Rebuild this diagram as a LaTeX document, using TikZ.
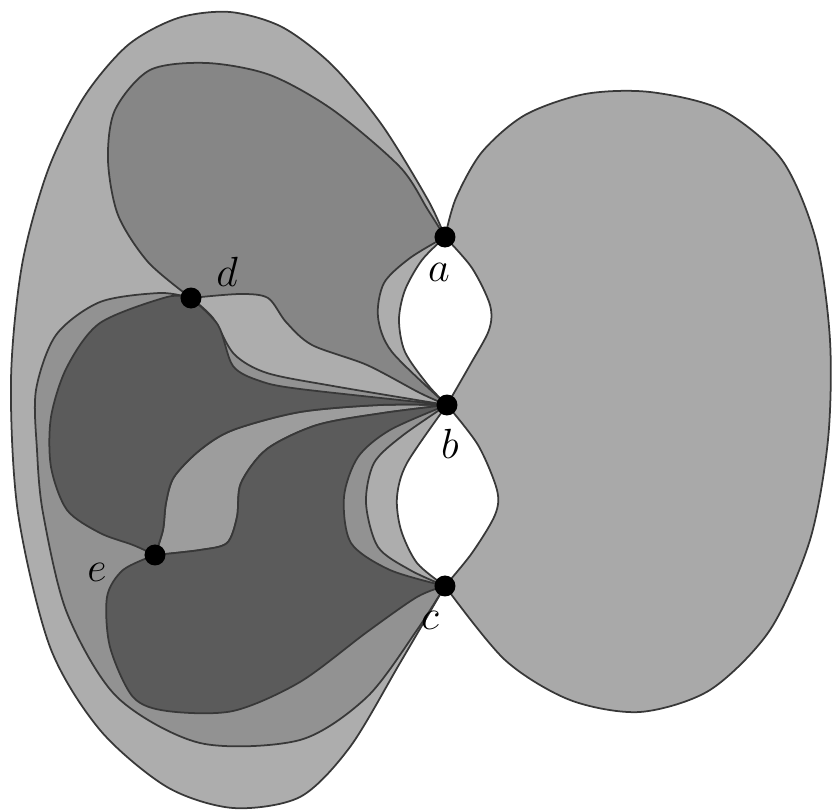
\documentclass[tikz,border=0pt]{standalone}
\usepackage{tikz}
\usetikzlibrary{calc}

\definecolor{rightgray}{HTML}{A9A9A9}
\definecolor{outergray}{HTML}{ADADAD}
\definecolor{topgray}{HTML}{868686}
\definecolor{bandgray}{HTML}{929292}
\definecolor{sgray}{HTML}{9D9D9D}
\definecolor{darkgray}{HTML}{5B5B5B}
\definecolor{edgegray}{HTML}{383838}

\begin{document}
\begin{tikzpicture}[x=0.1mm,y=-0.1mm,
    region/.style={draw=edgegray, line width=0.5pt, line join=round},
    dot/.style={circle, fill=black, inner sep=0pt, minimum size=2.1mm},
    lbl/.style={font=\large}]

\useasboundingbox (0,0) rectangle (832,810);

% Points
\coordinate (a) at (445,237);
\coordinate (b) at (447,405);
\coordinate (c) at (445,586);
\coordinate (d) at (191,298);
\coordinate (e) at (155,555);

% Right lobe
\filldraw[region, fill=rightgray] (a)
  -- plot[smooth] coordinates {(a) (456,198) (482,152) (525,115) (585,94) (650,92) (722,110) (782,160) (816,240) (830,340) (828,440) (810,540) (770,630) (710,690) (640,712) (570,700) (505,660) (c)}
  -- plot[smooth] coordinates {(c) (472,553) (495,515) (497,490) (478,445) (b)}
  -- plot[smooth] coordinates {(b) (470,365) (489,330) (490,305) (472,268) (a)}
  -- cycle;

% Outer left region
\filldraw[region, fill=outergray] (a)
  -- plot[smooth] coordinates {(a) (428,200) (382,125) (332,65) (282,27) (230,12) (178,18) (128,45) (84,97) (48,170) (22,265) (11,380) (18,513) (50,647) (100,730) (167,787) (233,808) (300,797) (350,747) (400,663) (c)}
  -- plot[smooth] coordinates {(c) (417,563) (401,530) (397,497) (407,463) (b)}
  -- plot[smooth] coordinates {(b) (428,385) (405,352) (399,320) (405,290) (422,260) (a)}
  -- cycle;

% Upper lobe between a, d and b
\filldraw[region, fill=topgray] (a)
  -- plot[smooth] coordinates {(a) (428,210) (400,167) (333,110) (270,75) (207,63) (150,70) (115,110) (108,160) (118,215) (148,262) (d)}
  -- plot[smooth] coordinates {(d) (240,294) (268,298) (286,322) (312,345) (367,365) (420,393) (b)}
  -- plot[smooth] coordinates {(b) (392,352) (378,317) (384,283) (410,258) (a)}
  -- cycle;

% Band round the dark lobes
\filldraw[region, fill=bandgray] (d)
  -- plot[smooth] coordinates {(d) (160,293) (100,302) (56,335) (36,390) (37,450) (43,513) (67,613) (117,697) (200,743) (300,740) (367,697) (417,630) (c)}
  -- plot[smooth] coordinates {(c) (410,570) (378,547) (366,503) (374,463) (402,436) (b)}
  -- plot[smooth] coordinates {(b) (333,386) (267,373) (234,354) (213,318) (d)}
  -- cycle;

% Light band between the dark lobes
\filldraw[region, fill=sgray] (e)
  -- plot[smooth] coordinates {(e) (163,530) (166,503) (174,477) (200,450) (233,430) (300,412) (380,405) (b)}
  -- plot[smooth] coordinates {(b) (383,413) (317,425) (267,449) (241,483) (237,517) (227,543) (200,550) (e)}
  -- cycle;

% Upper dark lobe
\filldraw[region, fill=darkgray] (d)
  -- plot[smooth] coordinates {(d) (167,297) (100,323) (67,367) (51,417) (51,467) (67,510) (100,533) (133,545) (e)}
  -- plot[smooth] coordinates {(e) (163,530) (166,503) (174,477) (200,450) (233,430) (300,412) (380,405) (b)}
  -- plot[smooth] coordinates {(b) (300,389) (260,381) (233,366) (218,325) (d)}
  -- cycle;

% Lower dark lobe
\filldraw[region, fill=darkgray] (e)
  -- plot[smooth] coordinates {(e) (200,550) (227,543) (237,517) (241,483) (267,449) (317,425) (383,413) (b)}
  -- plot[smooth] coordinates {(b) (390,430) (358,457) (344,497) (351,543) (390,570) (c)}
  -- plot[smooth] coordinates {(c) (417,597) (367,632) (300,682) (233,711) (167,711) (133,697) (110,647) (107,597) (123,570) (e)}
  -- cycle;

% Dots
\foreach \p in {a,b,c,d,e}
  \node[dot] (dot\p) at (\p) {};

% Labels
\node[lbl] (la) at (439,272) {$a$};
\node[lbl] (lb) at (450,444) {$b$};
\node[lbl] (lc) at (430,620) {$c$};
\node[lbl] (ld) at (227,272) {$d$};
\node[lbl] (le) at (97,572) {$e$};

\end{tikzpicture}
\end{document}
